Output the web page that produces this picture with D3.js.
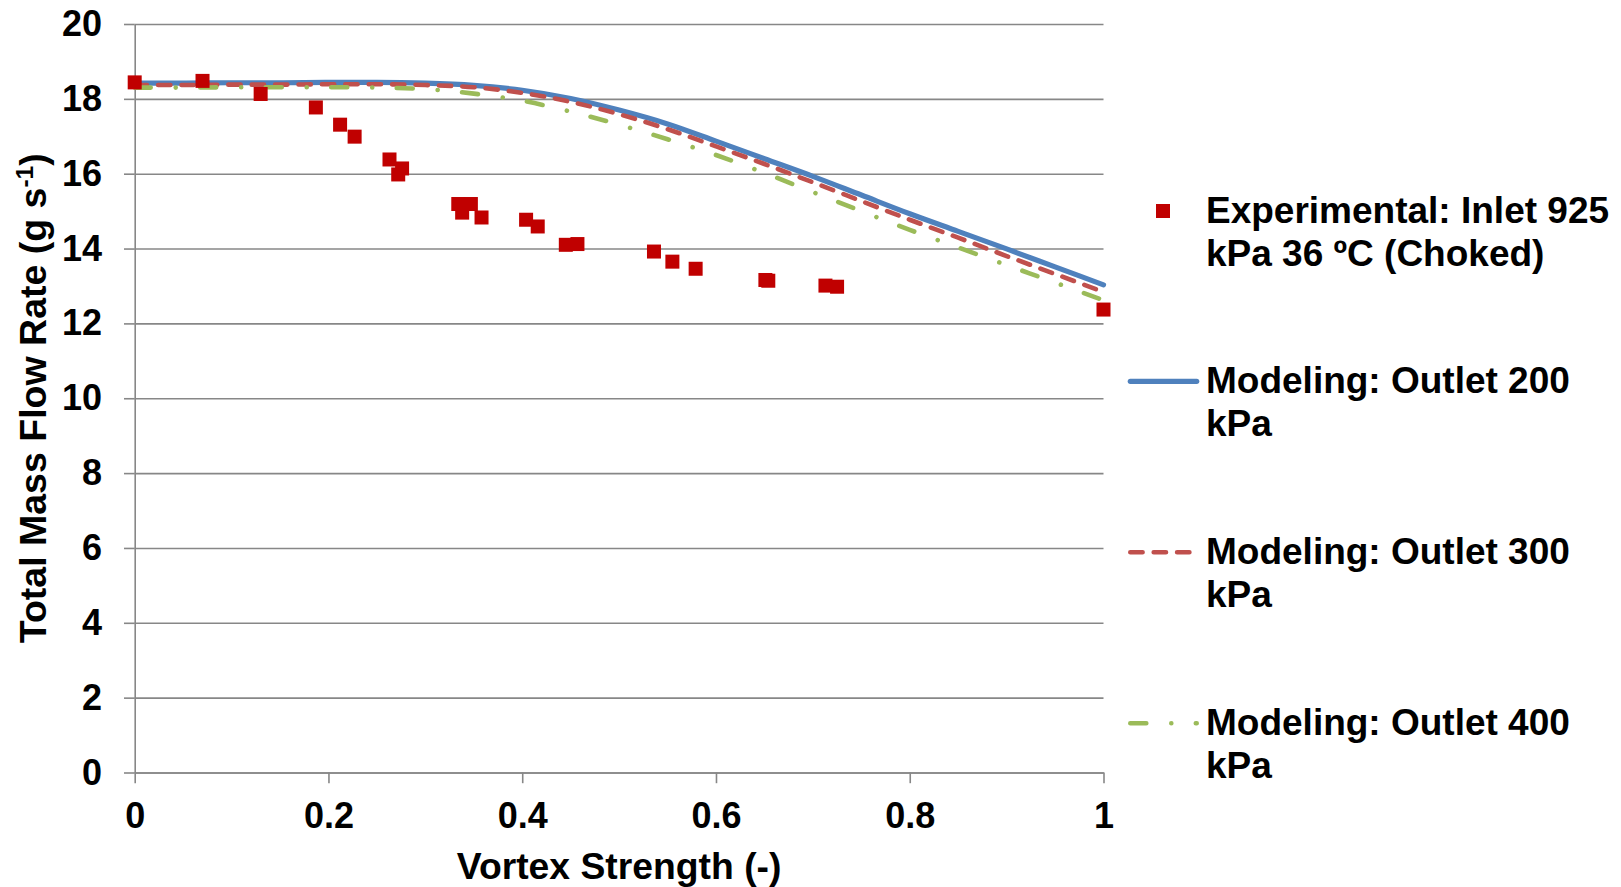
<!DOCTYPE html>
<html>
<head>
<meta charset="utf-8">
<script src="https://cdn.jsdelivr.net/npm/d3@7"></script>
<style>
  html, body { margin: 0; padding: 0; background: #ffffff; }
  svg { display: block; }
  text { font-family: "Liberation Sans", Arial, sans-serif; font-weight: bold; fill: #000; }
</style>
</head>
<body>
<svg id="chart" width="1621" height="887"></svg>
<script>
// ---- Data ----
const expX = [0.000, 0.070, 0.130, 0.187, 0.212, 0.227, 0.263, 0.276, 0.272, 0.334, 0.338, 0.347, 0.358, 0.404, 0.416, 0.445, 0.457, 0.536, 0.555, 0.579, 0.651, 0.654, 0.713, 0.725, 1.000];
const expY = [18.44, 18.48, 18.13, 17.77, 17.31, 16.99, 16.38, 16.14, 15.98, 15.19, 14.96, 15.19, 14.83, 14.77, 14.59, 14.10, 14.12, 13.92, 13.65, 13.46, 13.16, 13.14, 13.01, 12.98, 12.37];

const modelX = [0, 0.05, 0.1, 0.15, 0.2, 0.25, 0.3, 0.35, 0.4, 0.45, 0.5, 0.55, 0.6, 0.65, 0.7, 0.75, 0.8, 0.85, 0.9, 0.95, 1.0];
const outlet200 = [18.42, 18.42, 18.43, 18.43, 18.44, 18.44, 18.42, 18.36, 18.23, 18.01, 17.70, 17.33, 16.87, 16.40, 15.93, 15.43, 14.93, 14.46, 13.99, 13.51, 13.03];
const outlet300 = [18.37, 18.37, 18.38, 18.38, 18.39, 18.39, 18.37, 18.31, 18.16, 17.92, 17.59, 17.19, 16.73, 16.26, 15.77, 15.27, 14.77, 14.29, 13.80, 13.32, 12.84];
const outlet400 = [18.30, 18.30, 18.31, 18.31, 18.31, 18.30, 18.26, 18.14, 17.95, 17.66, 17.31, 16.92, 16.50, 16.02, 15.51, 15.00, 14.50, 14.03, 13.56, 13.09, 12.62];

const xTickValues = [0, 0.2, 0.4, 0.6, 0.8, 1];
const xTickLabels = ["0", "0.2", "0.4", "0.6", "0.8", "1"];
const yTickValues = [0, 2, 4, 6, 8, 10, 12, 14, 16, 18, 20];
const yTickLabels = ["0", "2", "4", "6", "8", "10", "12", "14", "16", "18", "20"];

const xTitle = "Vortex Strength (-)";
const yTitleMain = "Total Mass Flow Rate (g s";
const yTitleSup = "-1";
const yTitleEnd = ")";

const legendItems = [
  { type: "marker", lines: ["Experimental: Inlet 925", "kPa 36 ºC (Choked)"] },
  { type: "solid",  lines: ["Modeling: Outlet 200", "kPa"] },
  { type: "dash",   lines: ["Modeling: Outlet 300", "kPa"] },
  { type: "dashdot",lines: ["Modeling: Outlet 400", "kPa"] }
];

// ---- Layout ----
const svg = d3.select("#chart");
const pL = 134.7, pR = 1103.5, pT = 24, pB = 772.5;
const x = d3.scaleLinear().domain([0, 1]).range([pL, pR]);
const y = d3.scaleLinear().domain([0, 20]).range([pB, pT]);

const gridColor = "#878787";
const blue = "#4F81BD", red = "#C0504D", green = "#9BBB59", marker = "#C00000";
const FONT = '"Liberation Sans", Arial, sans-serif';
const redDash = "12.3,11.1", greenDash = "16,25,0.01,24.5";

// gridlines
const grid = svg.append("g").attr("transform", `translate(${pL},0)`)
  .call(d3.axisRight(y).tickValues(yTickValues).tickSize(pR - pL).tickFormat(""));
grid.select(".domain").remove();
grid.selectAll("line").attr("stroke", gridColor).attr("stroke-width", 1.6);

// y axis
const yAxis = svg.append("g").attr("transform", `translate(${pL},0)`)
  .call(d3.axisLeft(y).tickValues(yTickValues).tickSize(10.7).tickSizeOuter(0).tickPadding(22)
    .tickFormat((d, i) => yTickLabels[i]));
yAxis.select(".domain").attr("stroke", gridColor).attr("stroke-width", 1.6);
yAxis.selectAll("line").attr("stroke", gridColor).attr("stroke-width", 1.6);
yAxis.selectAll("text").attr("font-size", 36).attr("font-family", FONT).attr("font-weight", "bold").attr("fill", "#000");

// x axis
const xAxis = svg.append("g").attr("transform", `translate(0,${pB})`)
  .call(d3.axisBottom(x).tickValues(xTickValues).tickSize(10.7).tickSizeOuter(0).tickPadding(19.5)
    .tickFormat((d, i) => xTickLabels[i]));
xAxis.select(".domain").attr("stroke", gridColor).attr("stroke-width", 1.6);
xAxis.selectAll("line").attr("stroke", gridColor).attr("stroke-width", 1.6);
xAxis.selectAll("text").attr("font-size", 36).attr("font-family", FONT).attr("font-weight", "bold").attr("fill", "#000");

// axis titles
svg.append("text").attr("x", (pL + pR) / 2).attr("y", 879)
  .attr("text-anchor", "middle").attr("font-size", 37.3).text(xTitle);

const yt = svg.append("text").attr("transform", `translate(46,${(pT + pB) / 2}) rotate(-90)`)
  .attr("text-anchor", "middle").attr("font-size", 37.5);
yt.append("tspan").text(yTitleMain);
yt.append("tspan").attr("font-size", 24.5).attr("dy", -13.5).text(yTitleSup);
yt.append("tspan").attr("dy", 13.5).text(yTitleEnd);

// lines
const lineGen = (ys) => d3.line().x((d, i) => x(modelX[i])).y((d, i) => y(ys[i])).curve(d3.curveMonotoneX)(ys);

svg.append("path").attr("d", lineGen(outlet200)).attr("fill", "none")
  .attr("stroke", blue).attr("stroke-width", 5.2).attr("stroke-linecap", "round");
svg.append("path").attr("d", lineGen(outlet300)).attr("fill", "none")
  .attr("stroke", red).attr("stroke-width", 4.6).attr("stroke-linecap", "round")
  .attr("stroke-dasharray", redDash);
svg.append("path").attr("d", lineGen(outlet400)).attr("fill", "none")
  .attr("stroke", green).attr("stroke-width", 4.6).attr("stroke-linecap", "round")
  .attr("stroke-dasharray", greenDash);

// markers
const ms = 14;
svg.append("g").selectAll("rect").data(expX).join("rect")
  .attr("x", (d) => x(d) - ms / 2)
  .attr("y", (d, i) => y(expY[i]) - ms / 2)
  .attr("width", ms).attr("height", ms).attr("fill", marker);

// legend
const legX = 1206, symL = 1130.3, symR = 1196.7;
const legCenters = [211, 381.3, 552.3, 723.3];
legendItems.forEach((it, k) => {
  const cy = legCenters[k];
  if (it.type === "marker") {
    svg.append("rect").attr("x", 1163 - ms / 2).attr("y", cy - ms / 2).attr("width", ms).attr("height", ms).attr("fill", marker);
  } else {
    const p = svg.append("line").attr("x1", symL).attr("x2", symR).attr("y1", cy).attr("y2", cy)
      .attr("stroke-linecap", "round");
    if (it.type === "solid") p.attr("stroke", blue).attr("stroke-width", 5.2);
    if (it.type === "dash") p.attr("stroke", red).attr("stroke-width", 4.6).attr("stroke-dasharray", redDash);
    if (it.type === "dashdot") p.attr("stroke", green).attr("stroke-width", 4.6).attr("stroke-dasharray", greenDash);
  }
  it.lines.forEach((ln, j) => {
    svg.append("text").attr("x", legX).attr("y", cy + 11.7 + j * 43.3)
      .attr("font-size", 37).text(ln);
  });
});
</script>
</body>
</html>
